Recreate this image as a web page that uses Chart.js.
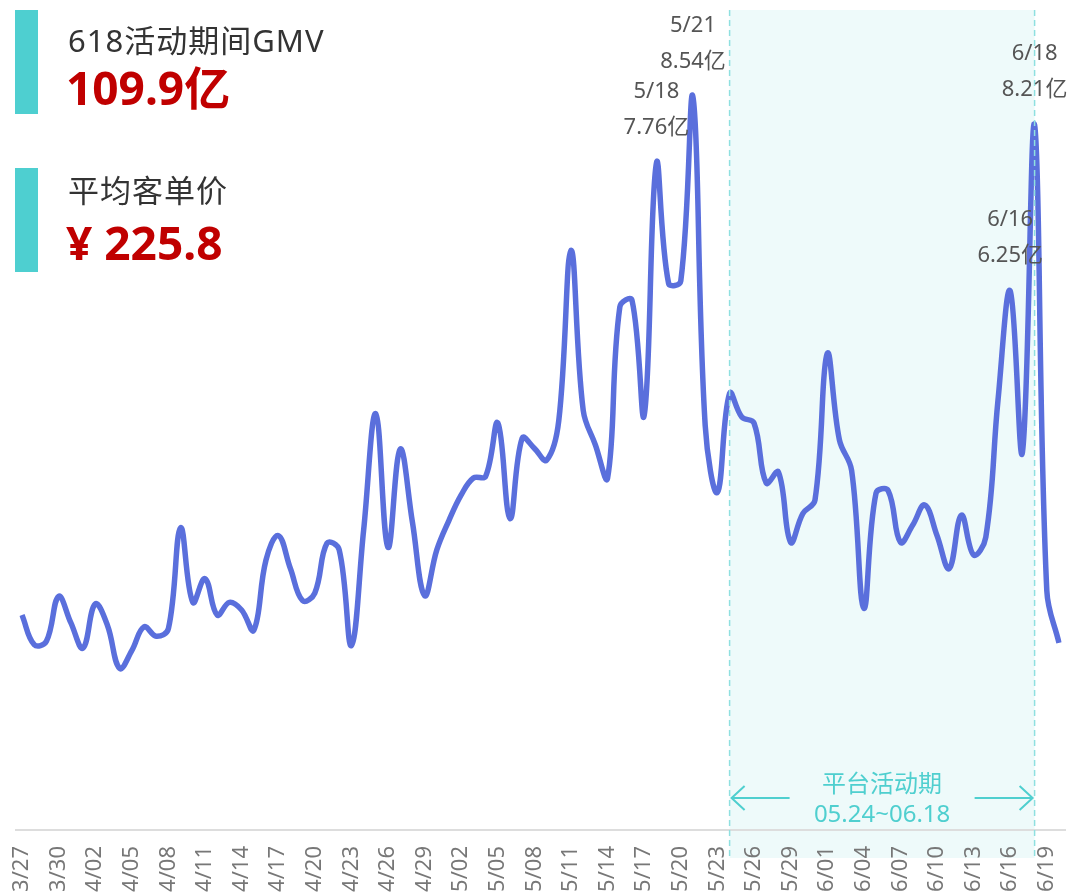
<!DOCTYPE html>
<html lang="zh">
<head>
<meta charset="utf-8">
<title>618活动期间GMV</title>
<script src="https://cdn.jsdelivr.net/npm/chart.js@4.4.1/dist/chart.umd.min.js"></script>
<style>
  html, body { margin: 0; padding: 0; background: #fff; }
  #wrap { position: relative; width: 1071px; height: 895px; overflow: hidden;
          font-family: "Noto Sans", "Noto Sans CJK SC", sans-serif; }
  #wrap canvas { position: absolute; left: 0; top: 0; }
  .bar { position: absolute; left: 15px; width: 23px; height: 104px; background: #4ecfd0; }
  .kpi-label { position: absolute; left: 68px; font-size: 31px; letter-spacing: 1px; color: #333; line-height: 1; white-space: nowrap; }
  .kpi-value { position: absolute; left: 66px; font-size: 46px; font-weight: bold; color: #c00000; line-height: 1; white-space: nowrap; }
</style>
</head>
<body>
<div id="wrap">
  <canvas id="gmvChart" width="1071" height="895"></canvas>
  <div class="bar" style="top:10px"></div>
  <div class="kpi-label" style="top:25px">618活动期间GMV</div>
  <div class="kpi-value" style="top:64px">109.9亿</div>
  <div class="bar" style="top:168px"></div>
  <div class="kpi-label" style="top:175px">平均客单价</div>
  <div class="kpi-value" style="top:219px">¥ 225.8</div>
</div>
<script>
// daily dates 3/27 - 6/20
const dates = [
  "3/27","3/28","3/29","3/30","3/31",
  "4/01","4/02","4/03","4/04","4/05","4/06","4/07","4/08","4/09","4/10",
  "4/11","4/12","4/13","4/14","4/15","4/16","4/17","4/18","4/19","4/20",
  "4/21","4/22","4/23","4/24","4/25","4/26","4/27","4/28","4/29","4/30",
  "5/01","5/02","5/03","5/04","5/05","5/06","5/07","5/08","5/09","5/10",
  "5/11","5/12","5/13","5/14","5/15","5/16","5/17","5/18","5/19","5/20",
  "5/21","5/22","5/23","5/24","5/25","5/26","5/27","5/28","5/29","5/30","5/31",
  "6/01","6/02","6/03","6/04","6/05","6/06","6/07","6/08","6/09","6/10",
  "6/11","6/12","6/13","6/14","6/15","6/16","6/17","6/18","6/19","6/20"
];

// daily GMV (亿)
const gmv = [
  2.42, 2.07, 2.11, 2.64, 2.33,
  2.03, 2.55, 2.30, 1.79, 2.00, 2.28, 2.17, 2.26, 3.45, 2.57,
  2.85, 2.42, 2.57, 2.48, 2.24, 3.07, 3.36, 2.97, 2.59, 2.68,
  3.27, 3.19, 2.06, 3.42, 4.80, 3.22, 4.38, 3.52, 2.65, 3.19,
  3.54, 3.84, 4.04, 4.06, 4.69, 3.56, 4.51, 4.39, 4.25, 4.72,
  6.73, 4.84, 4.43, 4.04, 6.06, 6.14, 4.78, 7.76, 6.34, 6.37,
  8.54, 4.66, 3.87, 5.04, 4.76, 4.69, 3.98, 4.11, 3.28, 3.62, 3.78,
  5.51, 4.49, 4.13, 2.50, 3.86, 3.89, 3.28, 3.48, 3.72, 3.36,
  2.97, 3.60, 3.13, 3.34, 4.96, 6.25, 4.34, 8.21, 2.71, 2.09
];

const peakDays = ["5/18", "5/21", "6/16", "6/18"];
const periodStart = "5/24";
const periodEnd = "6/18";
const periodTitle = "平台活动期";
const periodText = "05.24~06.18";

const TEAL = "#4fcfcf";

const overlay = {
  id: "overlay",
  beforeDraw(chart) {
    const { ctx, chartArea, scales: { x } } = chart;
    const x0 = x.getPixelForValue(dates.indexOf(periodStart));
    const x1 = x.getPixelForValue(dates.indexOf(periodEnd));
    ctx.save();
    ctx.fillStyle = "#eefafa";
    ctx.fillRect(x0, chartArea.top, x1 - x0, chartArea.bottom + 28 - chartArea.top);
    // axis line runs a little past the plot on both sides
    ctx.strokeStyle = "#dddddd";
    ctx.lineWidth = 2;
    ctx.beginPath();
    ctx.moveTo(15, chartArea.bottom);
    ctx.lineTo(1066, chartArea.bottom);
    ctx.stroke();
    ctx.restore();
  },
  afterDatasetsDraw(chart) {
    const { ctx, chartArea, scales: { x, y } } = chart;
    const x0 = x.getPixelForValue(dates.indexOf(periodStart));
    const x1 = x.getPixelForValue(dates.indexOf(periodEnd));
    ctx.save();

    // dashed borders of the period
    ctx.strokeStyle = "#8fe0e0";
    ctx.lineWidth = 1.5;
    ctx.setLineDash([6, 4]);
    [x0, x1].forEach(px => {
      ctx.beginPath();
      ctx.moveTo(px, chartArea.top);
      ctx.lineTo(px, chartArea.bottom + 28);
      ctx.stroke();
    });
    ctx.setLineDash([]);

    // arrows
    const ay = chartArea.bottom - 32;
    ctx.strokeStyle = TEAL;
    ctx.lineWidth = 2;
    ctx.beginPath();
    ctx.moveTo(x0 + 2, ay); ctx.lineTo(x0 + 60, ay);
    ctx.moveTo(x0 + 15, ay - 12); ctx.lineTo(x0 + 2, ay); ctx.lineTo(x0 + 15, ay + 12);
    ctx.moveTo(x1 - 2, ay); ctx.lineTo(x1 - 60, ay);
    ctx.moveTo(x1 - 15, ay - 12); ctx.lineTo(x1 - 2, ay); ctx.lineTo(x1 - 15, ay + 12);
    ctx.stroke();

    // period text
    const cx = (x0 + x1) / 2;
    ctx.fillStyle = TEAL;
    ctx.textAlign = "center";
    ctx.textBaseline = "middle";
    ctx.font = '24px "Noto Sans CJK SC", "Noto Sans", sans-serif';
    ctx.fillText(periodTitle, cx, ay - 15);
    ctx.font = '24px "Noto Sans", "Noto Sans CJK SC", sans-serif';
    ctx.fillText(periodText, cx, ay + 17);

    // peak labels
    ctx.fillStyle = "#555";
    ctx.font = '22px "Noto Sans", "Noto Sans CJK SC", sans-serif';
    peakDays.forEach(d => {
      const i = dates.indexOf(d);
      const px = x.getPixelForValue(i);
      const py = y.getPixelForValue(gmv[i]);
      ctx.fillText(d, px, py - 71);
      ctx.fillText(gmv[i].toFixed(2) + "亿", px, py - 35);
    });
    ctx.restore();
  }
};

new Chart(document.getElementById("gmvChart"), {
  type: "line",
  data: {
    labels: dates,
    datasets: [{
      data: gmv,
      borderColor: "#5a6fdc",
      borderWidth: 5.5,
      tension: 0.4,
      pointRadius: 0,
      fill: false
    }]
  },
  options: {
    responsive: false,
    animation: false,
    layout: { padding: { top: 10, left: 22, right: 12, bottom: 0 } },
    plugins: { legend: { display: false }, tooltip: { enabled: false } },
    scales: {
      x: {
        offset: false,
        grid: { display: false, drawTicks: false },
        border: { display: false },
        ticks: {
          autoSkip: false,
          maxRotation: 90,
          minRotation: 90,
          padding: 16,
          color: "#777",
          font: { size: 22, family: '"Noto Sans", sans-serif' },
          callback: (val, idx) => idx % 3 === 0 ? dates[idx] : ""
        },
        afterFit: scale => {
          scale.height = 65;
          scale.paddingLeft = 0;
          scale.paddingRight = 0;
        }
      },
      y: {
        display: false,
        min: -0.12,
        max: 9.57
      }
    }
  },
  plugins: [overlay]
});
</script>
</body>
</html>
